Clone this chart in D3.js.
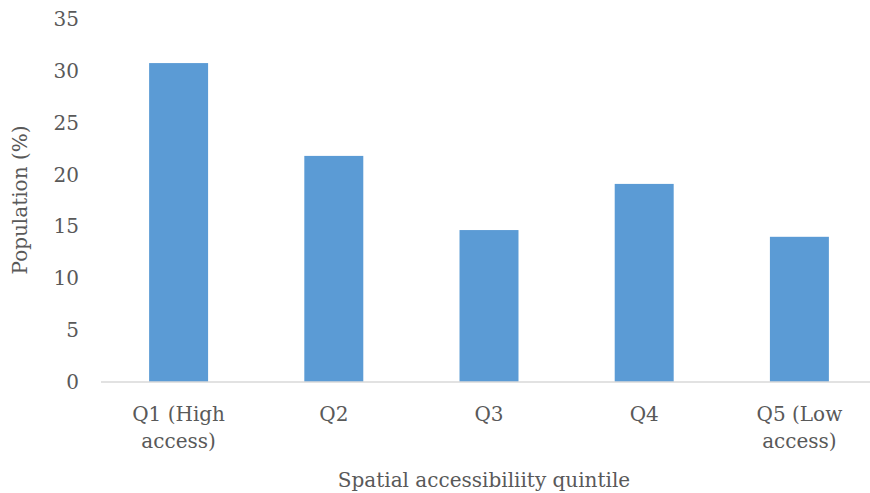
<!DOCTYPE html>
<html>
<head>
<meta charset="utf-8">
<script src="https://cdn.jsdelivr.net/npm/d3@7"></script>
<style>
  html, body { margin: 0; padding: 0; background: #ffffff; }
  svg text { font-family: "DejaVu Serif", "Liberation Serif", serif; fill: #595959; }
</style>
</head>
<body>
<svg id="chart" width="870" height="493"></svg>
<script>
// Share of population by spatial accessibility quintile
const categories = ["Q1 (High access)", "Q2", "Q3", "Q4", "Q5 (Low access)"];
const categoryLines = [["Q1 (High", "access)"], ["Q2"], ["Q3"], ["Q4"], ["Q5 (Low", "access)"]];
const populationPct = [30.75, 21.8, 14.65, 19.1, 14.0];
const yTicks = [0, 5, 10, 15, 20, 25, 30, 35];

const svg = d3.select("#chart");
const fontSize = 20;

const x = d3.scaleBand()
  .domain(categories)
  .range([101, 877])
  .paddingInner(0.62)
  .paddingOuter(0.31);

const y = d3.scaleLinear()
  .domain([0, 35])
  .range([382, 19]);

// y tick labels (no axis line, no gridlines)
svg.append("g")
  .selectAll("text")
  .data(yTicks)
  .join("text")
  .attr("x", 79)
  .attr("y", d => y(d))
  .attr("dy", "0.35em")
  .attr("text-anchor", "end")
  .style("font-size", fontSize + "px")
  .text(d => d);

// bars
svg.append("g")
  .selectAll("rect")
  .data(categories)
  .join("rect")
  .attr("x", d => x(d))
  .attr("width", x.bandwidth())
  .attr("y", (d, i) => y(populationPct[i]))
  .attr("height", (d, i) => y(0) - y(populationPct[i]))
  .attr("fill", "#5b9bd5");

// baseline
svg.append("line")
  .attr("x1", x.range()[0])
  .attr("x2", x.range()[1])
  .attr("y1", y(0))
  .attr("y2", y(0))
  .attr("stroke", "#d9d9d9")
  .attr("stroke-width", 1.5);

// category labels
const catG = svg.append("g")
  .selectAll("text")
  .data(categories)
  .join("text")
  .attr("text-anchor", "middle")
  .style("font-size", fontSize + "px")
  .attr("transform", d => `translate(${x(d) + x.bandwidth() / 2},421)`);

catG.each(function(d, i) {
  const t = d3.select(this);
  categoryLines[i].forEach((line, j) => {
    t.append("tspan")
      .attr("x", 0)
      .attr("y", j * 27)
      .text(line);
  });
});

// axis titles
svg.append("text")
  .attr("x", 484)
  .attr("y", 487)
  .attr("text-anchor", "middle")
  .style("font-size", fontSize + "px")
  .text("Spatial accessibiliity quintile");

svg.append("text")
  .attr("transform", "translate(27,200) rotate(-90)")
  .attr("text-anchor", "middle")
  .style("font-size", fontSize + "px")
  .text("Population (%)");
</script>
</body>
</html>
